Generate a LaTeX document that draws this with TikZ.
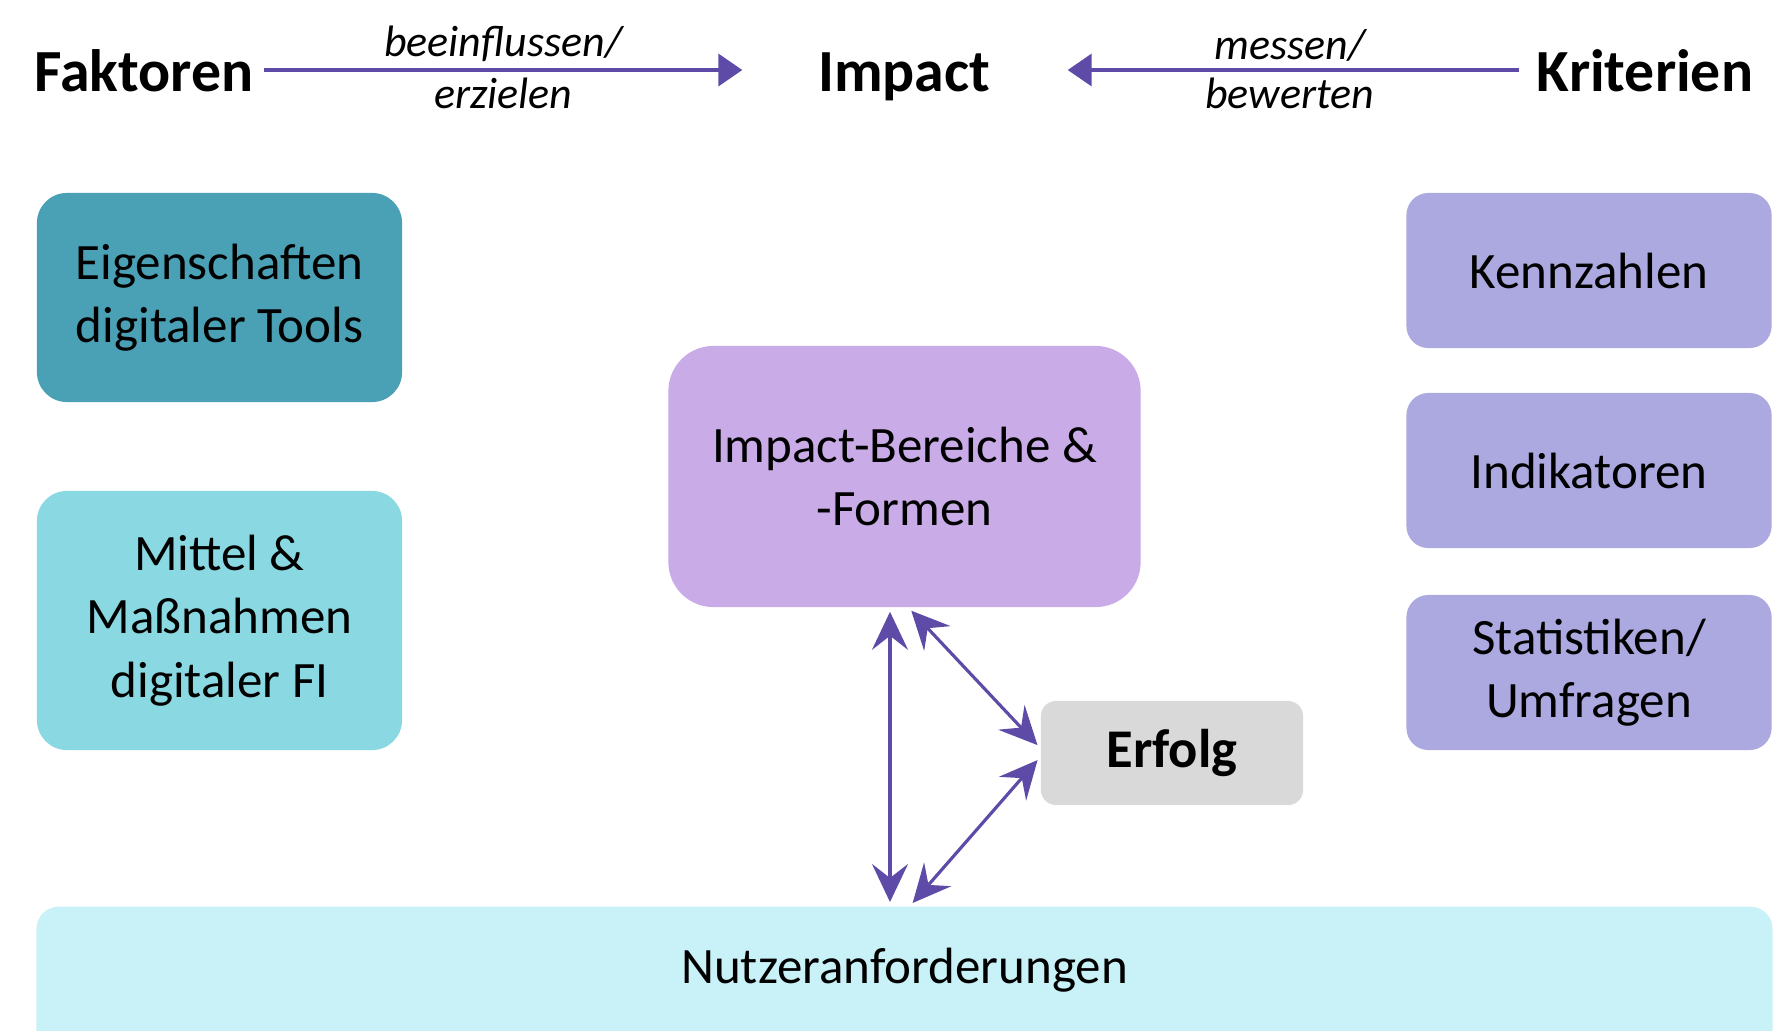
\documentclass[tikz,border=0pt]{standalone}
\usepackage{fontspec}
\setmainfont{Carlito}
\usetikzlibrary{positioning, arrows.meta}
\definecolor{tealdark}{HTML}{4AA0B5}
\definecolor{tealbright}{HTML}{8AD8E1}
\definecolor{lilac}{HTML}{C9ABE7}
\definecolor{critblue}{HTML}{ABA9DF}
\definecolor{greylight}{HTML}{D9D9D9}
\definecolor{nutzercyan}{HTML}{C8F1F8}
\definecolor{arrowpurple}{HTML}{5E4BA8}

\begin{document}
\begin{tikzpicture}[x=0.01cm, y=-0.01cm,
        every node/.style={font=\fontsize{14.5}{18}\selectfont, align=center},
        head/.style={font=\fontsize{17}{20}\selectfont\bfseries, inner sep=0.1cm, text height=0.52cm, text depth=0.1cm},
        lbl/.style={font=\fontsize{12.5}{15}\selectfont\itshape, inner sep=0.065cm},
        box/.style={rounded corners=0.3cm, minimum width=3.65cm},
        crit/.style={box, fill=critblue, rounded corners=0.22cm, minimum height=1.55cm},
        topline/.style={draw=arrowpurple, line width=1.1pt, -{Triangle[length=0.24cm,width=0.32cm]}},
        dbl/.style={draw=arrowpurple, line width=0.9pt, shorten <=0.04cm, shorten >=0.04cm,
            {Stealth[length=0.38cm,width=0.36cm,inset=0.14cm]}-{Stealth[length=0.38cm,width=0.36cm,inset=0.14cm]}}]

        \useasboundingbox (0,0) rectangle (1791,1030);

        \node[head] (faktoren) at (144,70) {Faktoren};
        \node[head] (impact) at (904,70) {Impact};
        \node[head] (kriterien) at (1645,70) {Kriterien};

        \draw[topline, shorten >=0.65cm] (faktoren) -- node[lbl, above, pos=0.44] {beeinflussen/} node[lbl, below, pos=0.44] {erzielen} (impact);
        \draw[topline, shorten <=0.07cm, shorten >=0.67cm] (kriterien) -- node[lbl, above, pos=0.45] {messen/} node[lbl, below, pos=0.45] {bewerten} (impact);

        \node[box, fill=tealdark, minimum height=2.09cm] (eigen) at (219.5,297.5) {Eigenschaften\\digitaler Tools};
        \node[box, fill=tealbright, minimum height=2.59cm] (mittel) at (219.5,620.5) {Mittel \&\\Maßnahmen\\digitaler FI};
        \node[box, fill=lilac, minimum width=4.72cm, minimum height=2.61cm, rounded corners=0.45cm] (bereiche) at (904.5,476.5) {Impact-Bereiche \&\\-Formen};

        \node[crit] (kennz) at (1589,270.5) {Kennzahlen};
        \node[crit] (indik) at (1589,470.5) {Indikatoren};
        \node[crit] (statis) at (1589,672.5) {Statistiken/\\Umfragen};

        \node[box, fill=greylight, minimum width=2.62cm, minimum height=1.04cm, rounded corners=0.15cm,
            font=\fontsize{15.5}{18}\selectfont\bfseries] (erfolg) at (1172,753) {Erfolg};
        \node[box, fill=nutzercyan, minimum width=17.35cm, minimum height=1.9cm, rounded corners=0.22cm,
            anchor=north, text height=0.36cm, text depth=0.72cm] (nutzer) at (904.5,906) {Nutzeranforderungen};

        \draw[dbl] ([xshift=-0.145cm]bereiche.south) -- ([xshift=-0.145cm]nutzer.north);
        \draw[dbl] ([xshift=0.04cm]bereiche.south) -- ([yshift=0.05cm]erfolg.west);
        \draw[dbl] ([yshift=-0.04cm]erfolg.west) -- ([xshift=0.055cm]nutzer.north);

    \end{tikzpicture}
\end{document}
